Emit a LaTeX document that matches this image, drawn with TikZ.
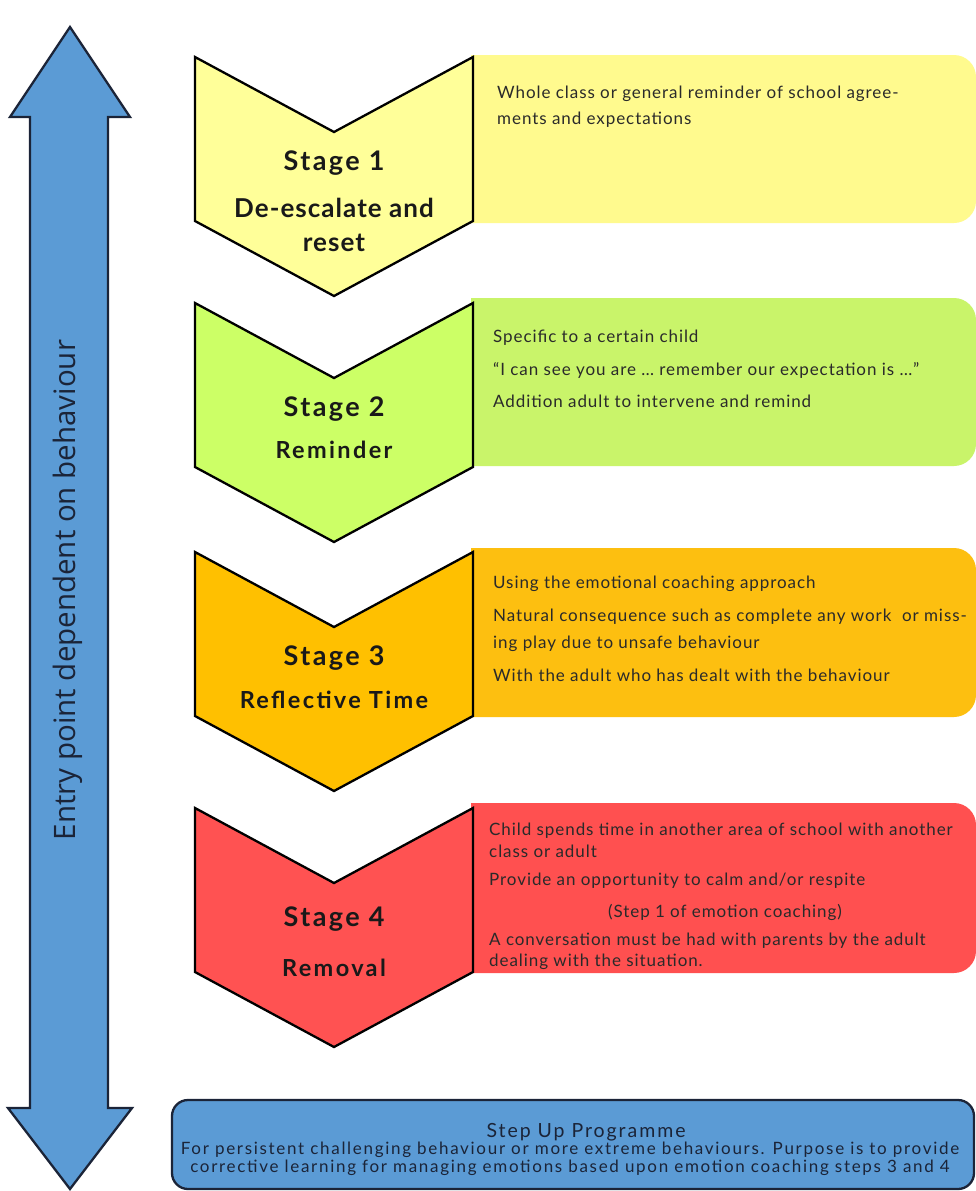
\documentclass[tikz,border=0pt]{standalone}
\usepackage{fontspec}
\setmainfont{Lato}
\newfontfamily\bodyf[LetterSpace=5.5]{Lato}
\newfontfamily\stepf[LetterSpace=10]{Lato}
\newfontfamily\titlef[LetterSpace=4]{Lato}
\newfontfamily\stagef[LetterSpace=9]{Lato}
\newfontfamily\wordf[LetterSpace=10]{Lato}
\newfontfamily\sidef{Open Sans}
\definecolor{c1}{HTML}{FFFF99}
\definecolor{b1}{HTML}{FFFA8E}
\definecolor{c2}{HTML}{CCFF66}
\definecolor{b2}{HTML}{C9F46A}
\definecolor{c3}{HTML}{FFC000}
\definecolor{b3}{HTML}{FDBF10}
\definecolor{c4}{HTML}{FF5252}
\definecolor{b4}{HTML}{FF5050}
\definecolor{blu}{HTML}{5B9BD5}
\definecolor{navy}{HTML}{1B2438}
\definecolor{ink}{HTML}{2A2A2A}
\newcommand\chevshape[2]{%
  \filldraw[chev,fill=#2] (195,#1) -- (334,#1+75) -- (473,#1) -- (473,#1+164) -- (334,#1+239) -- (195,#1+164) -- cycle;}
\newcommand\infobox[3]{%
  \fill[#3] (471,#1) [rounded corners=22pt] -- (976,#1) -- (976,#2) [sharp corners] -- (471,#2) -- cycle;}
\begin{document}
\begin{tikzpicture}[x=1pt,y=-1pt,
  chev/.style={draw=black,line width=2.3pt,line join=miter},
  txt/.style={anchor=base west,inner sep=0pt,text=ink,font=\bodyf\fontsize{17}{20}\selectfont},
  ttl/.style={anchor=base,inner sep=0pt,text=black!90,font=\titlef\bfseries\fontsize{26}{30}\selectfont},
  stl/.style={anchor=base,inner sep=0pt,text=black!90,font=\stagef\bfseries\fontsize{27}{30}\selectfont},
  sttl/.style={anchor=base,inner sep=0pt,text=black!90,font=\wordf\bfseries\fontsize{23.5}{26}\selectfont},
  steptxt/.style={anchor=base,inner sep=0pt,text=navy,font=\stepf\fontsize{17}{20}\selectfont}]
\useasboundingbox (0,0) rectangle (976,1191);
\fill[white] (0,0) rectangle (976,1191);
% double arrow
\filldraw[fill=blu,draw=navy,line width=2.3pt,line join=miter]
  (70,27) -- (130,117) -- (108,117) -- (108,1108) -- (132,1108) -- (70,1189)
  -- (8,1108) -- (30,1108) -- (30,117) -- (10,117) -- cycle;
\node[rotate=90,text=navy,inner sep=0pt,font=\sidef\fontsize{29.5}{32}\selectfont] (entry) at (68,590) {Entry point dependent on behaviour};
% info boxes
\infobox{55}{223}{b1}
\infobox{298}{466}{b2}
\infobox{548}{717}{b3}
\infobox{803}{973}{b4}
% chevrons
\chevshape{57}{c1}
\chevshape{303}{c2}
\chevshape{552}{c3}
\chevshape{808}{c4}
% titles
\node[stl] (s1) at (334,170) {Stage 1};
\node[ttl] (s1a) at (334,217) {De-escalate and};
\node[ttl] (s1b) at (334,251) {reset};
\node[stl] (s2) at (334,416) {Stage 2};
\node[sttl] (s2a) at (334,458) {Reminder};
\node[stl] (s3) at (334,665) {Stage 3};
\node[sttl] (s3a) at (334,708) {Reflective Time};
\node[stl] (s4) at (334,926) {Stage 4};
\node[sttl] (s4a) at (334,976) {Removal};
% box texts
\node[txt] (t11) at (497,98) {Whole class or general reminder of school agree-};
\node[txt] (t12) at (497,124) {ments and expectations};
\node[txt] (t21) at (493,342) {Specific to a certain child};
\node[txt] (t22) at (493,375) {“I can see you are … remember our expectation is …”};
\node[txt] (t23) at (493,407) {Addition adult to intervene and remind};
\node[txt] (t31) at (493,588) {Using the emotional coaching approach};
\node[txt] (t32) at (493,621) {Natural consequence such as complete any work\ \ or miss-};
\node[txt] (t33) at (493,648) {ing play due to unsafe behaviour};
\node[txt] (t34) at (493,681) {With the adult who has dealt with the behaviour};
\node[txt] (t41) at (489,835) {Child spends time in another area of school with another};
\node[txt] (t42) at (489,857) {class or adult};
\node[txt] (t43) at (489,885) {Provide an opportunity to calm and/or respite};
\node[txt,anchor=base] (t44) at (725,917) {(Step 1 of emotion coaching)};
\node[txt] (t45) at (489,945) {A conversation must be had with parents by the adult};
\node[txt] (t46) at (489,966) {dealing with the situation.};
% step up box
\filldraw[fill=blu,draw=navy,line width=2.3pt,rounded corners=16pt] (172,1100) rectangle (974,1189);
\node[steptxt,font=\stepf\fontsize{19.5}{22}\selectfont] (su) at (586,1137) {Step Up Programme};
\node[steptxt] (su1) at (570,1154) {For persistent challenging behaviour or more extreme behaviours. Purpose is to provide};
\node[steptxt] (su2) at (570,1172) {corrective learning for managing emotions based upon emotion coaching steps 3 and 4};
\end{tikzpicture}
\end{document}
